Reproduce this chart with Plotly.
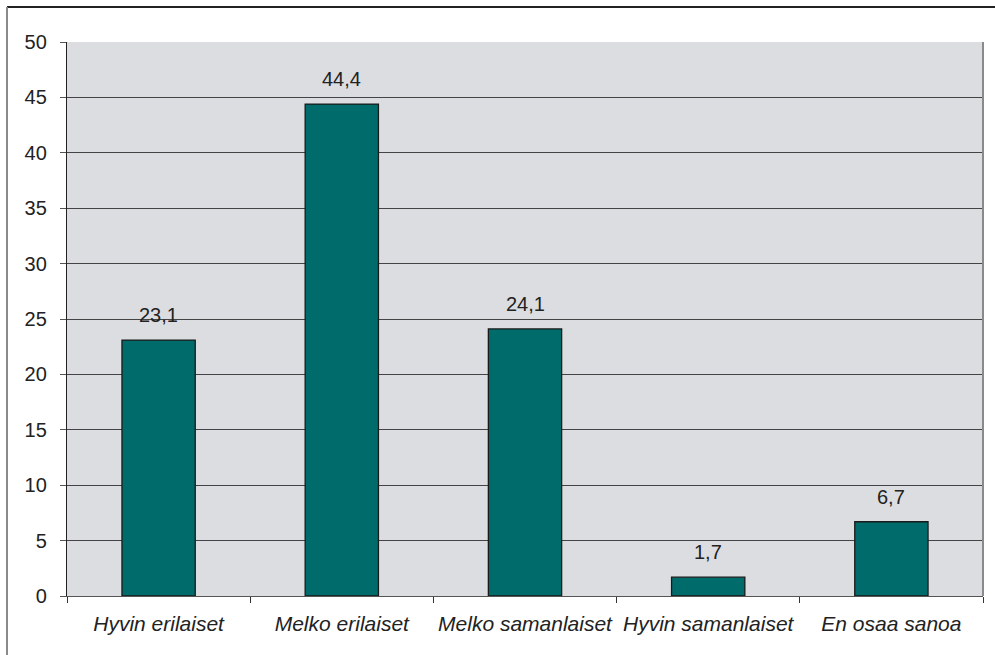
import plotly.graph_objects as go

categories = ["Hyvin erilaiset", "Melko erilaiset", "Melko samanlaiset",
              "Hyvin samanlaiset", "En osaa sanoa"]
values = [23.1, 44.4, 24.1, 1.7, 6.7]
value_labels = ["23,1", "44,4", "24,1", "1,7", "6,7"]
y_ticks = [0, 5, 10, 15, 20, 25, 30, 35, 40, 45, 50]

W, H = 995, 655
L, R, T, B = 67, 12, 42, 59
pw, ph = W - L - R, H - T - B

fig = go.Figure(go.Bar(
    x=categories, y=values, width=0.4,
    marker=dict(color="#006b6b", line=dict(color="#1a1a1a", width=1.3)),
    hoverinfo="skip",
))

for c, v, t in zip(categories, values, value_labels):
    fig.add_annotation(x=c, y=v, text=t, showarrow=False, yanchor="bottom",
                       yshift=12, font=dict(size=20, color="#222222"))

# chart frame (top and left edges)
fx0 = (7 - L) / pw
fy0 = (H - B - 7) / ph
fig.add_shape(type="line", xref="paper", yref="paper", x0=fx0, x1=1.2,
              y0=fy0, y1=fy0, line=dict(color="#222222", width=2))
fig.add_shape(type="line", xref="paper", yref="paper", x0=fx0, x1=fx0,
              y0=fy0, y1=-0.3, line=dict(color="#8a8a8a", width=2))
# right edge of plot area
fig.add_shape(type="line", xref="paper", yref="paper", x0=1, x1=1,
              y0=0, y1=1, line=dict(color="#8a8a8a", width=2))

fig.update_layout(
    width=W, height=H, margin=dict(l=L, r=R, t=T, b=B, autoexpand=False),
    paper_bgcolor="white", plot_bgcolor="#dcdde0",
    font=dict(family="Liberation Sans, Arial, sans-serif", color="#222222"),
    showlegend=False, bargap=0.6,
)
fig.update_xaxes(
    tickson="boundaries", ticks="outside", ticklen=6, tickcolor="#333333",
    showline=True, linecolor="#555555", linewidth=1.3, showgrid=False,
    tickfont=dict(size=21, style="italic", color="#222222"),
    ticklabelstandoff=9, tickangle=0, automargin=False,
)
fig.update_yaxes(
    range=[0, 50], tickvals=y_ticks, ticks="outside", ticklen=6,
    tickcolor="#555555", showline=True, linecolor="#222222", linewidth=1.3,
    showgrid=True, gridcolor="#444444", gridwidth=1,
    tickfont=dict(size=20, color="#222222"), ticklabelstandoff=9,
    zeroline=False, automargin=False,
)

fig.write_html("out.html")
